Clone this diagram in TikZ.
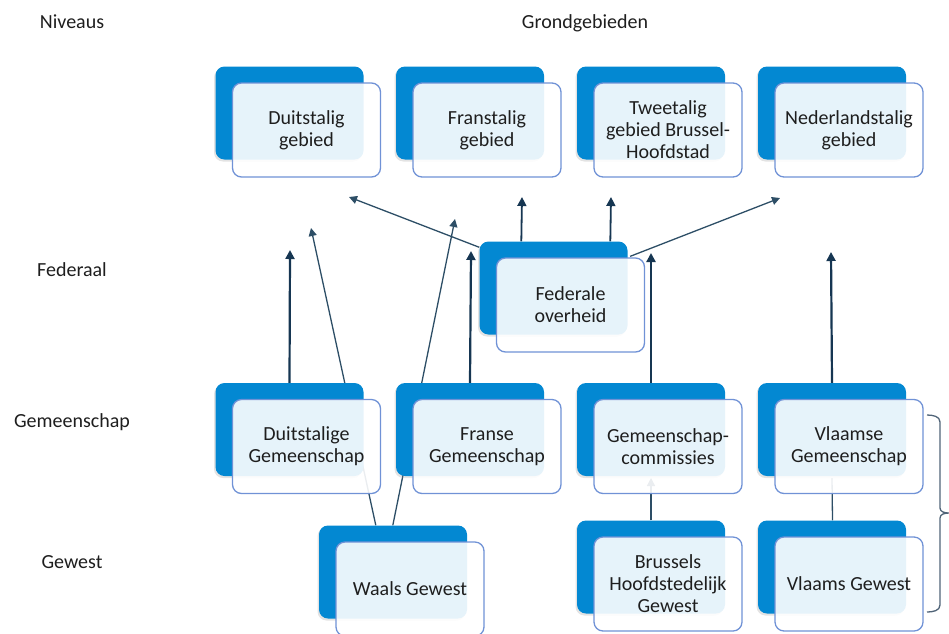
\documentclass[tikz,border=0pt]{standalone}
\usepackage{fontspec}
\setmainfont{Carlito}
\usetikzlibrary{arrows.meta,calc,shadows}
\definecolor{bblue}{RGB}{3,136,210}
\definecolor{fborder}{RGB}{112,146,214}
\definecolor{navy}{RGB}{22,54,82}
\definecolor{thinln}{RGB}{45,78,102}
\definecolor{brk}{RGB}{80,100,120}
\definecolor{txt}{RGB}{30,30,30}
\pgfdeclarelayer{lines}
\pgfdeclarelayer{back}
\pgfsetlayers{lines,back,main}
\tikzset{
 backbox/.style={fill=bblue, rounded corners=9pt, minimum width=148pt, minimum height=93pt, inner sep=0pt,
   drop shadow={shadow xshift=-1.5pt,shadow yshift=-2pt,opacity=0.22}},
 frontbox/.style={draw=fborder, line width=1.3pt, fill=white, fill opacity=0.9, text opacity=1,
   rounded corners=9pt, minimum width=148pt, minimum height=94pt, inner sep=0pt, align=center,
   font=\fontsize{20}{22}\selectfont, text=txt},
 lvl/.style={font=\fontsize{20}{22}\selectfont, text=txt, inner sep=0pt, anchor=base},
 thickarr/.style={draw=navy, line width=2.2pt, -{Triangle[length=9pt,width=9pt]}},
 medarr/.style={draw=navy, line width=1.8pt, -{Triangle[length=9pt,width=9pt]}},
 thinarr/.style={draw=thinln, line width=1.3pt, -{Triangle[length=8pt,width=8pt]}},
 thinln/.style={draw=thinln, line width=1.3pt},
}
\newcommand\pairbox[4]{%
 \begin{pgfonlayer}{back}\node[backbox] (#1b) at ([xshift=-17pt,yshift=17pt]#2,#3) {};\end{pgfonlayer}
 \node[frontbox] (#1) at (#2,#3) {#4};}
\begin{document}
\begin{tikzpicture}[x=1pt,y=-1pt]
\useasboundingbox (0,0) rectangle (949,633);
\clip (0,0) rectangle (949,633);
% level labels
\node[lvl] (niv) at (72,28) {Niveaus};
\node[lvl] (grond) at (585,28) {Grondgebieden};
\node[lvl] (fed) at (72,276) {Federaal};
\node[lvl] (gem) at (72,427) {Gemeenschap};
\node[lvl] (gew) at (72,568) {Gewest};
% top row
\pairbox{dt}{306.5}{130}{Duitstalig\\gebied}
\pairbox{ft}{487}{130}{Franstalig\\gebied}
\pairbox{tt}{668}{130}{Tweetalig\\gebied Brussel-\\Hoofdstad}
\pairbox{nt}{849}{130}{Nederlandstalig\\gebied}
% federal
\pairbox{fo}{570.5}{305}{Federale\\overheid}
% communities
\pairbox{dg}{306.5}{446.5}{Duitstalige\\Gemeenschap}
\pairbox{fg}{487}{446.5}{Franse\\Gemeenschap}
\pairbox{gc}{668}{446.5}{Gemeenschap-\\commissies}
\pairbox{vg}{849}{446.5}{Vlaamse\\Gemeenschap}
% regions
\pairbox{wg}{410}{589}{Waals Gewest}
\pairbox{bh}{668}{584}{Brussels\\Hoofdstedelijk\\Gewest}
\pairbox{vw}{849}{584}{Vlaams Gewest}
% connectors
\begin{pgfonlayer}{lines}
\coordinate (t1) at (290,250);
\coordinate (t2) at (471,251);
\coordinate (t3) at (651,253);
\coordinate (t4) at (831,252);
\draw[thickarr] (dgb.north) -- (t1);
\draw[thickarr] (fgb.north) -- (t2);
\draw[thickarr] (gcb.north) -- (t3);
\draw[thickarr] (vgb.north) -- (t4);
\coordinate (f1) at (522,197);
\coordinate (f2) at (611,197);
\coordinate (f3) at (349,197);
\coordinate (f4) at (780,198);
\draw[medarr] ($(fob.north west)+(42,0)$) -- (f1);
\draw[medarr] ($(fob.north west)+(131,0)$) -- (f2);
\draw[thinarr] ($(fob.north west)+(0,6)$) -- (f3);
\draw[thinarr] ($(fo.north east)+(-15,-1)$) -- (f4);
\coordinate (w1) at (311,228);
\coordinate (w2) at (455,219);
\draw[thinarr] ($(wgb.north west)+(57,0)$) -- (w1);
\draw[thinarr] ($(wgb.north west)+(74,0)$) -- (w2);
\coordinate (b1) at (651,478);
\coordinate (v1) at (832,478);
\draw[thinarr] (bhb.north) -- (b1);
\draw[thinln] ($(vwb.north)+(0.5,0)$) -- (v1);
\end{pgfonlayer}
% bracket
\draw[brk, line width=1.3pt] (927,415) to[out=0,in=90] (940,422) -- (940,508) to[out=-90,in=180] (949,513)
  to[out=180,in=90] (940,518) -- (940,605) to[out=-90,in=0] (927,612);
\end{tikzpicture}
\end{document}
